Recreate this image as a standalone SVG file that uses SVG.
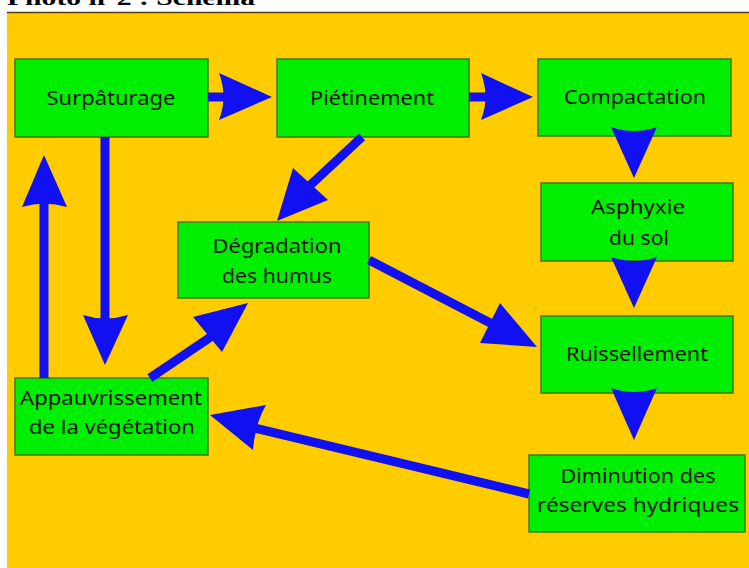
<svg xmlns="http://www.w3.org/2000/svg" width="749" height="568" viewBox="0 0 749 568">
<style>
.node rect{fill:#00ee00;stroke:#3f7a1a;stroke-width:1.5}
.node text{font-family:"Comic Sans MS","Noto Sans",sans-serif;font-size:19px;fill:#141414;text-anchor:middle}
.shaft{stroke:#1010f0;stroke-width:9;fill:none}
.head{fill:#1010f0}
.title{font-family:"Liberation Serif",serif;font-weight:bold;font-size:22px;fill:#000}
</style>
<rect x="0" y="0" width="749" height="568" fill="#ffffff"/>
<text class="title" x="7" y="5" textLength="248" lengthAdjust="spacingAndGlyphs">Photo n°2 : Schéma</text>
<rect x="7" y="12" width="742" height="556" fill="#ffcc00"/>
<line x1="7" y1="12.5" x2="749" y2="12.5" stroke="#5b3f14" stroke-width="1.5"/>

<g id="nodes">
<g id="surpaturage" class="node"><rect x="15" y="59" width="193" height="78"/><text x="111" y="105" textLength="129" lengthAdjust="spacingAndGlyphs">Surpâturage</text></g>
<g id="pietinement" class="node"><rect x="277" y="59" width="192" height="78"/><text x="372" y="105" textLength="124" lengthAdjust="spacingAndGlyphs">Piétinement</text></g>
<g id="compactation" class="node"><rect x="538" y="59" width="193" height="77"/><text x="635" y="104" textLength="142" lengthAdjust="spacingAndGlyphs">Compactation</text></g>
<g id="asphyxie" class="node"><rect x="541" y="183" width="192" height="78"/><text x="638" y="214" textLength="94" lengthAdjust="spacingAndGlyphs">Asphyxie</text><text x="639" y="245" textLength="60" lengthAdjust="spacingAndGlyphs">du sol</text></g>
<g id="ruissellement" class="node"><rect x="541" y="316" width="192" height="77"/><text x="637" y="361" textLength="142" lengthAdjust="spacingAndGlyphs">Ruissellement</text></g>
<g id="degradation" class="node"><rect x="178" y="222" width="191" height="76"/><text x="277" y="253" textLength="129" lengthAdjust="spacingAndGlyphs">Dégradation</text><text x="277" y="283" textLength="110" lengthAdjust="spacingAndGlyphs">des humus</text></g>
<g id="appauvrissement" class="node"><rect x="15" y="378" width="193" height="77"/><text x="111" y="405" textLength="182" lengthAdjust="spacingAndGlyphs">Appauvrissement</text><text x="112" y="434" textLength="166" lengthAdjust="spacingAndGlyphs">de la végétation</text></g>
<g id="diminution" class="node"><rect x="529" y="455" width="216" height="77"/><text x="638" y="483" textLength="155" lengthAdjust="spacingAndGlyphs">Diminution des</text><text x="638" y="512" textLength="202" lengthAdjust="spacingAndGlyphs">réserves hydriques</text></g>
</g>

<g id="connectors">
<line class="shaft" x1="208" y1="97" x2="226" y2="97"/>
<path class="head" d="M219,73 L272,97 L219,120 Q228,97 219,73 Z"/>
<line class="shaft" x1="469" y1="97" x2="488" y2="97"/>
<path class="head" d="M481,73 L533,97 L481,120 Q490,97 481,73 Z"/>
<path class="head" d="M611,127 Q634,135 657,127 L634,178 Z"/>
<path class="head" d="M611,257 Q634,265 657,257 L634,308 Z"/>
<path class="head" d="M611,388 Q634,396 657,388 L634,440 Z"/>
<line class="shaft" x1="362" y1="137" x2="305" y2="190"/>
<path class="head" d="M293,168 L328,200 L277,221 Z"/>
<line class="shaft" x1="105" y1="137" x2="105" y2="322"/>
<path class="head" d="M83,315 Q105,322 128,315 L105,365 Z"/>
<line class="shaft" x1="44" y1="378" x2="44" y2="200"/>
<path class="head" d="M22,207 Q44,200 67,207 L44,155 Z"/>
<line class="shaft" x1="150" y1="378" x2="218" y2="332"/>
<path class="head" d="M193,317 L222,352 L248,303 Z"/>
<line class="shaft" x1="369" y1="260" x2="498" y2="327"/>
<path class="head" d="M500,303 L480,343 L537,347 Z"/>
<line class="shaft" x1="529" y1="494" x2="250" y2="427"/>
<path class="head" d="M266,405 Q255,424 253,450 L210,415 Z"/>
</g>
</svg>
